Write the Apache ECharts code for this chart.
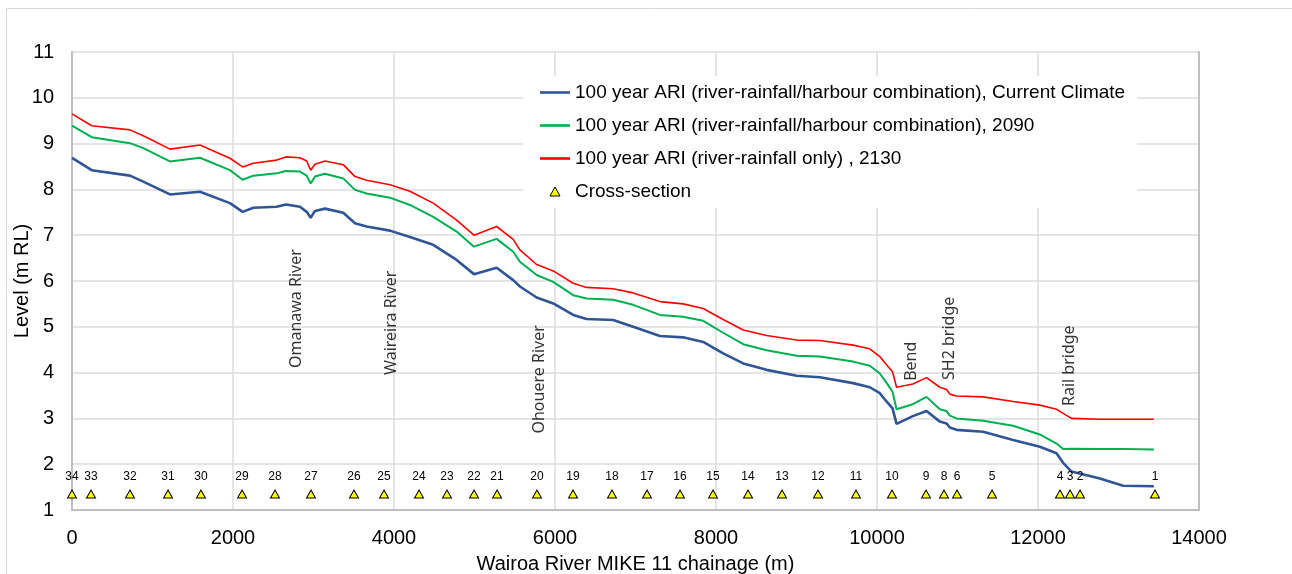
<!DOCTYPE html>
<html>
<head>
<meta charset="utf-8">
<script src="https://cdn.jsdelivr.net/npm/echarts@6/dist/echarts.min.js"></script>
<style>
html,body{margin:0;padding:0;background:#fff;}
#chart{width:1292px;height:574px;}
</style>
</head>
<body>
<div id="chart"></div>
<script>
// ---- Data ----
const chainage = [0,245,720,886,1217,1590,1962,2120,2252,2542,2658,2832,2915,2965,3018,3142,3370,3515,3660,3950,4198,4487,4778,4993,5275,5481,5564,5772,5978,6226,6392,6723,6971,7303,7592,7841,8089,8338,8628,9001,9290,9703,9911,10035,10118,10193,10243,10445,10615,10781,10864,10905,10988,11319,11691,12023,12230,12312,12416,12768,13058,13439];

const levelCurrent = [8.69,8.42,8.30,8.17,7.89,7.95,7.70,7.51,7.60,7.62,7.67,7.62,7.51,7.38,7.53,7.58,7.49,7.26,7.19,7.10,6.96,6.79,6.46,6.15,6.29,6.02,5.88,5.64,5.51,5.26,5.17,5.15,5.00,4.80,4.77,4.67,4.42,4.20,4.06,3.93,3.90,3.77,3.68,3.55,3.37,3.22,2.88,3.05,3.16,2.93,2.89,2.80,2.75,2.71,2.53,2.38,2.24,2.03,1.84,1.69,1.53,1.52];

const level2090 = [9.39,9.14,9.01,8.90,8.61,8.69,8.42,8.21,8.30,8.35,8.40,8.39,8.30,8.13,8.28,8.34,8.24,7.99,7.91,7.82,7.66,7.40,7.08,6.75,6.92,6.64,6.42,6.13,5.98,5.69,5.62,5.59,5.48,5.26,5.22,5.13,4.87,4.62,4.49,4.37,4.35,4.24,4.15,3.98,3.78,3.58,3.20,3.31,3.47,3.20,3.16,3.06,3.00,2.95,2.84,2.65,2.45,2.33,2.34,2.33,2.33,2.32];

const level2130 = [9.65,9.39,9.30,9.17,8.88,8.97,8.68,8.49,8.57,8.64,8.71,8.69,8.62,8.42,8.55,8.62,8.54,8.28,8.20,8.10,7.96,7.70,7.33,7.00,7.19,6.91,6.68,6.36,6.22,5.95,5.86,5.83,5.74,5.55,5.50,5.40,5.16,4.93,4.81,4.71,4.70,4.60,4.52,4.35,4.17,4.02,3.68,3.75,3.89,3.68,3.63,3.53,3.49,3.47,3.37,3.29,3.20,3.11,3.00,2.98,2.98,2.98];

const seriesNames = [
  '100 year ARI (river-rainfall/harbour combination), Current Climate',
  '100 year ARI (river-rainfall/harbour combination), 2090',
  '100 year ARI (river-rainfall only) , 2130',
  'Cross-section'
];

const sectionLabels = ['34','33','32','31','30','29','28','27','26','25','24','23','22','21','20','19','18','17','16','15','14','13','12','11','10','9','8','6','5','4','3','2','1'];
const sectionChainage = [0,236,720,1193,1602,2112,2522,2969,3503,3876,4311,4658,4994,5280,5776,6224,6708,7143,7553,7963,8398,8820,9267,9739,10186,10609,10832,10994,11429,12273,12398,12522,13453];
const sectionLevel = 1.35;

const noteTexts = ['Omanawa River','Waireira River','Ohouere River','Bend','SH2 bridge','Rail bridge'];
const noteChainage = [2782,3971,5804,10429,10905,12387];
const noteLevel = [4.10,3.95,2.67,3.82,3.84,3.27];

const xTicks = {min:0, max:14000, interval:2000};
const yTicks = {min:1, max:11, interval:1};

// ---- Chart ----
const chart = echarts.init(document.getElementById('chart'), null, {renderer:'canvas'});
const pairs = (xs, ys) => xs.map((x,i)=>[x, ys[i]]);
const fontMain = '"Liberation Sans", Arial, sans-serif';
const lineIcon = 'path://M0,0H30V2.6H0Z';
const triIcon = 'path://M5,0L10,9L0,9Z';

const option = {
  animation: false,
  backgroundColor: '#ffffff',
  textStyle: {fontFamily: fontMain},
  graphic: [{
    type: 'rect', z: -10, silent: true,
    shape: {x: 6.5, y: 8.5, width: 1320, height: 620},
    style: {fill: 'none', stroke: '#d9d9d9', lineWidth: 1}
  }],
  grid: {left: 72, right: 93, top: 52, bottom: 64, containLabel: false, outerBoundsMode: 'none'},
  legend: {
    orient: 'vertical',
    left: 523, top: 76,
    padding: [7, 12, 7, 17],
    backgroundColor: '#ffffff',
    itemWidth: 30, itemHeight: 9,
    itemGap: 14,
    textStyle: {fontSize: 19, lineHeight: 19, color: '#000', fontFamily: fontMain},
    data: [
      {name: seriesNames[0], icon: lineIcon, itemStyle: {color: '#2f5597', borderWidth: 0}},
      {name: seriesNames[1], icon: lineIcon, itemStyle: {color: '#00b050', borderWidth: 0}},
      {name: seriesNames[2], icon: lineIcon, itemStyle: {color: '#ff0000', borderWidth: 0}},
      {name: seriesNames[3], icon: triIcon, itemStyle: {color: '#ffff00', borderColor: '#000', borderWidth: 1}}
    ]
  },
  xAxis: {
    type: 'value', min: xTicks.min, max: xTicks.max, interval: xTicks.interval,
    name: 'Wairoa River MIKE 11 chainage (m)',
    nameLocation: 'middle', nameGap: 44,
    nameTextStyle: {fontSize: 20, color: '#000', fontFamily: fontMain},
    axisLine: {show: true, onZero: false, lineStyle: {color: '#bfbfbf', width: 2}},
    axisTick: {show: false},
    axisLabel: {fontSize: 20, color: '#000', margin: 18, fontFamily: fontMain, formatter: v => String(v)},
    splitLine: {show: true, lineStyle: {color: '#dcdcdc', width: 1.5}}
  },
  yAxis: [{
    type: 'value', min: yTicks.min, max: yTicks.max, interval: yTicks.interval,
    name: 'Level (m RL)',
    nameLocation: 'middle', nameGap: 40, nameRotate: 90, nameMoveOverlap: false,
    nameTextStyle: {fontSize: 20, color: '#000', fontFamily: fontMain},
    axisLine: {show: true, lineStyle: {color: '#bfbfbf', width: 2}},
    axisTick: {show: false},
    axisLabel: {fontSize: 20, color: '#000', margin: 18, fontFamily: fontMain, formatter: v => String(v)},
    splitLine: {show: true, lineStyle: {color: '#dcdcdc', width: 1.5}}
  }, {
    type: 'value', position: 'right', min: yTicks.min, max: yTicks.max, interval: yTicks.interval,
    axisLine: {show: true, lineStyle: {color: '#bfbfbf', width: 2}},
    axisTick: {show: false}, axisLabel: {show: false}, splitLine: {show: false}
  }],
  series: [
    {
      name: seriesNames[0], type: 'line', showSymbol: false, z: 4,
      data: pairs(chainage, levelCurrent),
      itemStyle: {color: '#2f5597'},
      lineStyle: {color: '#2f5597', width: 2.6}
    },
    {
      name: seriesNames[1], type: 'line', showSymbol: false, z: 3,
      data: pairs(chainage, level2090),
      itemStyle: {color: '#00b050'},
      lineStyle: {color: '#00b050', width: 2}
    },
    {
      name: seriesNames[2], type: 'line', showSymbol: false, z: 2,
      data: pairs(chainage, level2130),
      itemStyle: {color: '#ff0000'},
      lineStyle: {color: '#ff0000', width: 1.6}
    },
    {
      name: seriesNames[3], type: 'scatter', z: 5,
      symbol: triIcon, symbolSize: [9, 8],
      itemStyle: {color: '#ffff00', borderColor: '#000', borderWidth: 1, opacity: 1},
      data: sectionChainage.map((c,i)=>({value: [c, sectionLevel], name: sectionLabels[i]})),
      label: {
        show: true, position: 'top', distance: 7,
        formatter: p => p.name,
        fontSize: 12, color: '#000', fontFamily: fontMain
      }
    },
    {
      name: 'notes', type: 'scatter', z: 6, symbolSize: 0, silent: true,
      data: noteChainage.map((c,i)=>({value: [c, noteLevel[i]], name: noteTexts[i]})),
      label: {
        show: true, position: [0, 0], rotate: 90,
        align: 'left', verticalAlign: 'middle',
        formatter: p => p.name,
        fontSize: 16, color: '#000', fontFamily: '"Noto Sans", "Open Sans", sans-serif'
      }
    }
  ]
};
chart.setOption(option);
</script>
</body>
</html>
